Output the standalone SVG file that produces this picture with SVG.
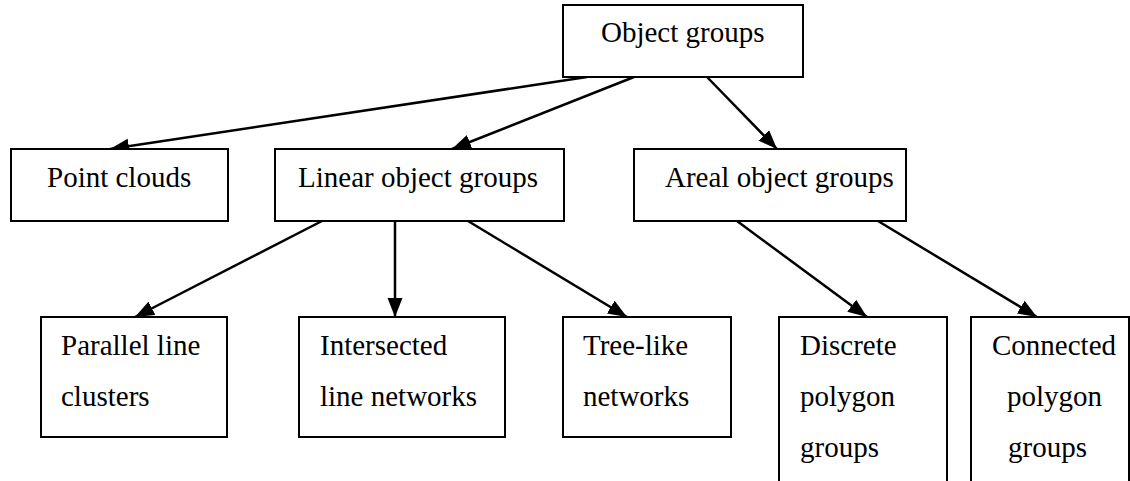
<svg xmlns="http://www.w3.org/2000/svg" width="1130" height="481" viewBox="0 0 1130 481">
<style>
.box{fill:#fff;stroke:#000;stroke-width:2}
.t{font-family:"Liberation Serif","Times New Roman",Times,serif;font-size:29px;fill:#000}
.c{stroke:#000;stroke-width:2.5;fill:none;marker-end:url(#ah)}
</style>
<defs>
<marker id="ah" markerUnits="userSpaceOnUse" markerWidth="20" markerHeight="16" refX="19" refY="7.5" orient="auto" viewBox="0 0 20 15">
<path d="M0,0 L19,7.5 L0,15 z" fill="#000"/>
</marker>
</defs>
<rect width="1130" height="481" fill="#fff"/>
<g id="connectors">
<line class="c" x1="587" y1="77" x2="110" y2="149"/>
<line class="c" x1="634" y1="77" x2="452" y2="149"/>
<line class="c" x1="707" y1="77" x2="777" y2="149"/>
<line class="c" x1="322" y1="221" x2="135" y2="317"/>
<line class="c" x1="395" y1="221" x2="395" y2="317"/>
<line class="c" x1="468" y1="221" x2="627" y2="317"/>
<line class="c" x1="737" y1="221" x2="867" y2="317"/>
<line class="c" x1="878" y1="221" x2="1037" y2="317"/>
</g>
<g id="object-groups"><rect class="box" x="563" y="5" width="240" height="72"/><text class="t" x="601" y="42">Object groups</text></g>
<g id="point-clouds"><rect class="box" x="11" y="149" width="217" height="72"/><text class="t" x="47" y="187">Point clouds</text></g>
<g id="linear"><rect class="box" x="275" y="149" width="289" height="72"/><text class="t" x="298" y="187">Linear object groups</text></g>
<g id="areal"><rect class="box" x="634" y="149" width="272" height="72"/><text class="t" x="665" y="187">Areal object groups</text></g>
<g id="parallel"><rect class="box" x="41" y="317" width="186" height="120"/><text class="t" x="61" y="355">Parallel line</text><text class="t" x="61" y="406">clusters</text></g>
<g id="intersected"><rect class="box" x="299" y="317" width="206" height="120"/><text class="t" x="320" y="355">Intersected</text><text class="t" x="320" y="406">line networks</text></g>
<g id="tree-like"><rect class="box" x="563" y="317" width="168" height="120"/><text class="t" x="583" y="355">Tree-like</text><text class="t" x="583" y="406">networks</text></g>
<g id="discrete"><rect class="box" x="779" y="317" width="168" height="190"/><text class="t" x="800" y="355">Discrete</text><text class="t" x="800" y="406">polygon</text><text class="t" x="800" y="457">groups</text></g>
<g id="connected"><rect class="box" x="971" y="317" width="158" height="190"/><text class="t" x="992" y="355">Connected</text><text class="t" x="1007" y="406">polygon</text><text class="t" x="1008" y="457">groups</text></g>
</svg>
